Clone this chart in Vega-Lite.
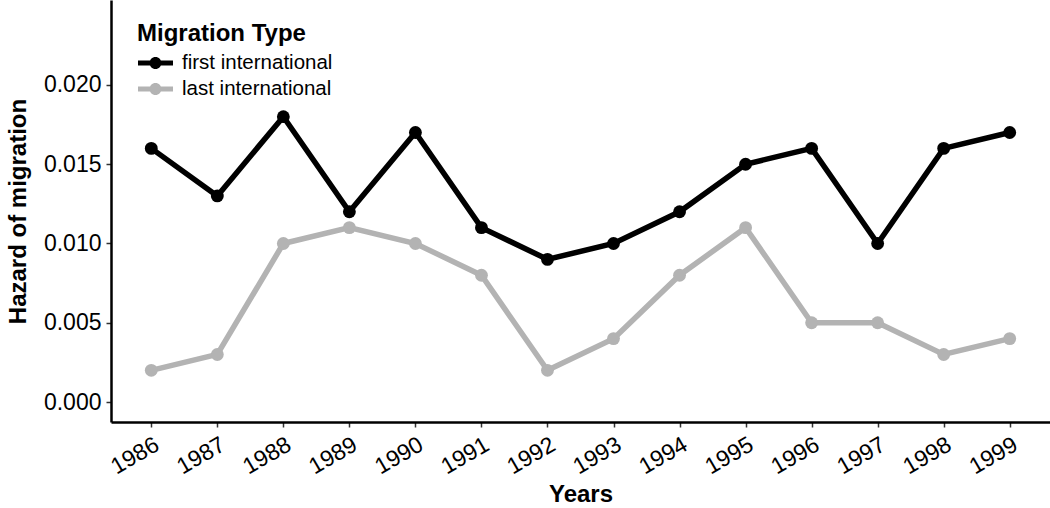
{
  "$schema": "https://vega.github.io/schema/vega-lite/v6.json",
  "width": 939,
  "height": 422,
  "autosize": {"type": "none"},
  "padding": {"left": 111, "top": 0, "right": 0, "bottom": 86},
  "background": "white",
  "config": {
    "view": {"stroke": null},
    "font": "Liberation Sans",
    "axis": {"grid": false, "domainColor": "black", "domainWidth": 2.5, "tickColor": "#333", "tickWidth": 1.5, "tickSize": 5, "labelColor": "black", "labelFont": "Liberation Sans", "labelFontSize": 23, "titleFont": "Liberation Sans", "titleFontSize": 24, "titleFontWeight": "bold", "titleColor": "black"}
  },
  "data": {
    "values": [
      {"year": 1986, "type": "first international", "hazard": 0.016},
      {"year": 1987, "type": "first international", "hazard": 0.013},
      {"year": 1988, "type": "first international", "hazard": 0.018},
      {"year": 1989, "type": "first international", "hazard": 0.012},
      {"year": 1990, "type": "first international", "hazard": 0.017},
      {"year": 1991, "type": "first international", "hazard": 0.011},
      {"year": 1992, "type": "first international", "hazard": 0.009},
      {"year": 1993, "type": "first international", "hazard": 0.010},
      {"year": 1994, "type": "first international", "hazard": 0.012},
      {"year": 1995, "type": "first international", "hazard": 0.015},
      {"year": 1996, "type": "first international", "hazard": 0.016},
      {"year": 1997, "type": "first international", "hazard": 0.010},
      {"year": 1998, "type": "first international", "hazard": 0.016},
      {"year": 1999, "type": "first international", "hazard": 0.017},
      {"year": 1986, "type": "last international", "hazard": 0.002},
      {"year": 1987, "type": "last international", "hazard": 0.003},
      {"year": 1988, "type": "last international", "hazard": 0.010},
      {"year": 1989, "type": "last international", "hazard": 0.011},
      {"year": 1990, "type": "last international", "hazard": 0.010},
      {"year": 1991, "type": "last international", "hazard": 0.008},
      {"year": 1992, "type": "last international", "hazard": 0.002},
      {"year": 1993, "type": "last international", "hazard": 0.004},
      {"year": 1994, "type": "last international", "hazard": 0.008},
      {"year": 1995, "type": "last international", "hazard": 0.011},
      {"year": 1996, "type": "last international", "hazard": 0.005},
      {"year": 1997, "type": "last international", "hazard": 0.005},
      {"year": 1998, "type": "last international", "hazard": 0.003},
      {"year": 1999, "type": "last international", "hazard": 0.004}
    ]
  },
  "mark": {"type": "line", "strokeWidth": 5.5, "point": {"size": 165, "filled": true, "opacity": 1}},
  "encoding": {
    "x": {
      "field": "year", "type": "quantitative",
      "scale": {"domain": [1985.39, 1999.61], "nice": false, "zero": false},
      "axis": {"title": "Years", "values": [1986,1987,1988,1989,1990,1991,1992,1993,1994,1995,1996,1997,1998,1999], "format": "d", "labelAngle": -30, "labelAlign": "right", "labelBaseline": "top", "labelPadding": 6, "titlePadding": 4, "labelFlush": false, "labelOverlap": false}
    },
    "y": {
      "field": "hazard", "type": "quantitative",
      "scale": {"domain": [-0.00126, 0.02536], "nice": false, "zero": false},
      "axis": {"title": "Hazard of migration", "values": [0, 0.005, 0.01, 0.015, 0.02], "format": ".3f", "labelPadding": 5, "titlePadding": 13, "labelFlush": false}
    },
    "color": {
      "field": "type", "type": "nominal",
      "scale": {"domain": ["first international", "last international"], "range": ["#000000", "#b3b3b3"]},
      "legend": {"title": "Migration Type", "orient": "none", "legendX": 26, "legendY": 22, "titleFontSize": 24, "titleFontWeight": "bold", "titleColor": "black", "titlePadding": 5, "labelFontSize": 20.5, "labelColor": "black", "labelOffset": 21, "symbolType": "M-0.917,-0.208L2,-0.208L2,0.208L-0.917,0.208Z M1.04,0A0.5,0.5,0,1,1,0.04,0A0.5,0.5,0,1,1,1.04,0Z", "symbolSize": 576, "symbolStrokeWidth": 0, "symbolOpacity": 1, "rowPadding": 3}
    }
  }
}
